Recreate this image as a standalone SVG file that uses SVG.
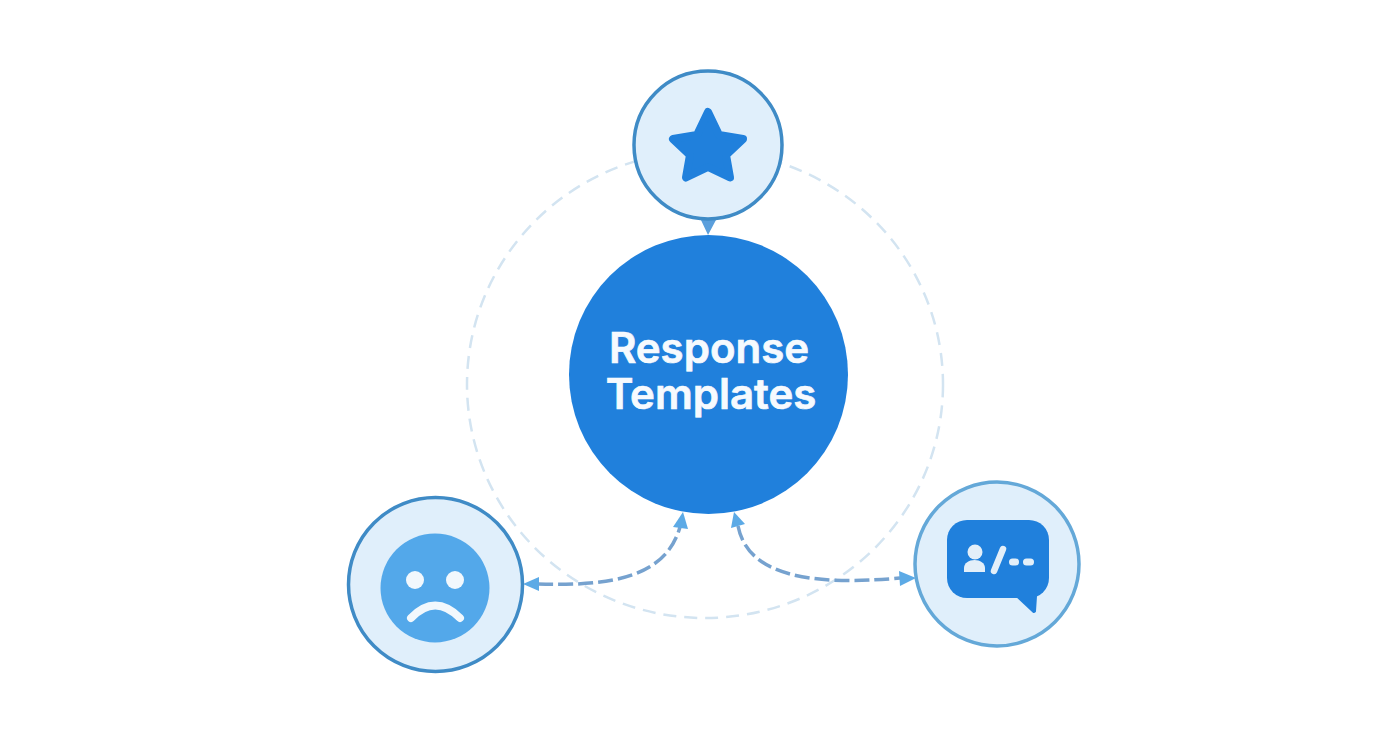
<svg xmlns="http://www.w3.org/2000/svg" width="1392" height="752" viewBox="0 0 1392 752">
<style>
.sat{fill:#e0effb;stroke-width:3.5}
.ic{fill:#2080dc}
.lt{fill:#e3eff9}
.link{fill:none;stroke:#76a2cf;stroke-width:3.500;stroke-dasharray:15 5}
.head{fill:#5caae6}
.t{font-family:Inter,"Liberation Sans",sans-serif;font-size:42px;font-weight:600;fill:#f6fafe;stroke:#f6fafe;stroke-width:.7;text-anchor:middle}
</style>
<rect width="1392" height="752" fill="#ffffff"/>
<g id="orbit"><ellipse cx="705" cy="384.500" rx="238" ry="233.500" fill="none" stroke="#d3e4f1" stroke-width="2.500" stroke-dasharray="13 8"/></g>
<g id="connectors">
<path class="link" d="M538 584C605 586 665 580 680 527"/>
<path class="link" d="M738 526C748 576 810 586 900 578"/>
<polygon class="head" points="523,584 539,577 539,591"/>
<polygon class="head" points="683,512 673,527 688,529"/>
<polygon class="head" points="734,512 731,528 745,524"/>
<polygon class="head" points="916,578 899,571 900,586"/>
<polygon fill="#5b9fdc" points="701,220 716,220 708,235"/>
</g>
<g id="center">
<circle cx="708.500" cy="374.500" r="139.500" fill="#2080dc"/>
<text class="t" x="709" y="363">Response</text>
<text class="t" x="711" y="409">Templates</text>
</g>
<g id="top-star">
<circle class="sat" cx="708" cy="145" r="74" stroke="#3f8bc6"/>
<path class="ic" stroke="#2080dc" stroke-width="8" stroke-linejoin="round" d="M708 112L719 135L743 139L726 155L730 177.500L708 167L686 177.500L690 155L673 139L697 135Z"/>
</g>
<g id="left-face">
<circle class="sat" cx="435.500" cy="584.500" r="87" stroke="#3f8bc6"/>
<circle cx="435" cy="588" r="54.500" fill="#53a8ea"/>
<circle cx="415" cy="580" r="9" fill="#f2f8fd"/>
<circle cx="455" cy="580" r="9" fill="#f2f8fd"/>
<path d="M411 618Q435 593 460 618" fill="none" stroke="#f2f8fd" stroke-width="8" stroke-linecap="round"/>
</g>
<g id="right-chat">
<circle class="sat" cx="997" cy="564" r="82" stroke="#64a8d8"/>
<rect class="ic" x="947" y="520" width="102" height="78" rx="20"/>
<path class="ic" stroke="#2080dc" stroke-width="4" stroke-linejoin="round" d="M1018 596L1034 611L1035 596Z"/>
<circle class="lt" cx="975" cy="552" r="7.500"/>
<path class="lt" d="M964 572V568C964 563 969 560 974.500 560C980 560 985 563 985 568V572Z"/>
<path d="M1003 549L994 571" fill="none" stroke="#e3eff9" stroke-width="6.500" stroke-linecap="round"/>
<rect class="lt" x="1009" y="558.500" width="10" height="7" rx="3.500"/>
<rect class="lt" x="1023" y="558.500" width="11" height="7" rx="3.500"/>
</g>
</svg>
